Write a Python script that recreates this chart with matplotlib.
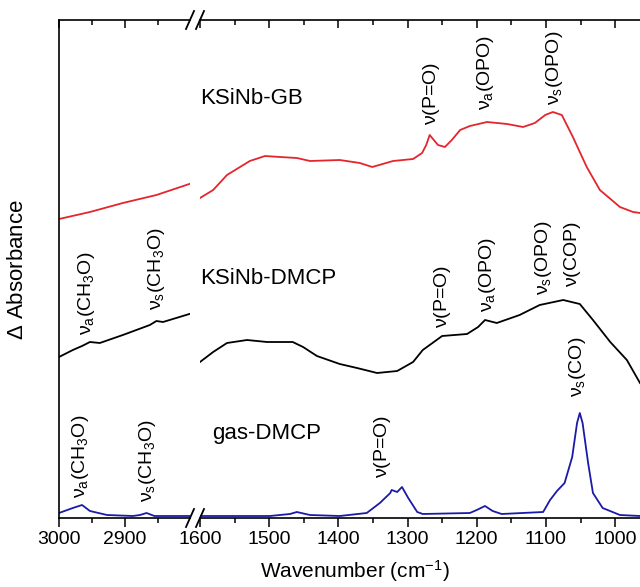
import matplotlib
matplotlib.use("Agg")
import matplotlib.pyplot as plt
from matplotlib.lines import Line2D
from matplotlib.ticker import FixedLocator

plt.rcParams['font.family'] = ['Liberation Sans', 'DejaVu Sans']
plt.rcParams['mathtext.fontset'] = 'custom'
plt.rcParams['mathtext.rm'] = 'Liberation Sans'
plt.rcParams['mathtext.it'] = 'Liberation Sans:italic'
plt.rcParams['mathtext.bf'] = 'Liberation Sans:bold'

# ---- data (wavenumber, delta absorbance, offset stacked) ----
gb_hi_wn = [3000, 2953, 2903, 2852, 2802]
gb_hi_a = [2.99, 3.06, 3.15, 3.23, 3.34]
gb_lo_wn = [1600, 1581, 1561, 1528, 1506, 1484, 1460, 1441, 1398, 1369, 1351, 1321,
            1292, 1279, 1273, 1268, 1262, 1256, 1246, 1236, 1224, 1210, 1185, 1156,
            1133, 1116, 1101, 1090, 1077, 1061, 1041, 1022, 993, 974, 964]
gb_lo_a = [3.20, 3.28, 3.43, 3.57, 3.62, 3.61, 3.60, 3.57, 3.58, 3.55, 3.51, 3.57,
           3.59, 3.65, 3.73, 3.83, 3.78, 3.73, 3.71, 3.78, 3.88, 3.92, 3.96, 3.94,
           3.91, 3.95, 4.03, 4.06, 4.03, 3.81, 3.51, 3.28, 3.11, 3.06, 3.05]

dm_hi_wn = [3000, 2979, 2965, 2953, 2938, 2903, 2862, 2852, 2842, 2802]
dm_hi_a = [1.61, 1.68, 1.72, 1.76, 1.75, 1.83, 1.93, 1.97, 1.96, 2.04]
dm_lo_wn = [1600, 1581, 1561, 1532, 1503, 1466, 1451, 1431, 1398, 1373, 1344, 1315,
            1292, 1278, 1268, 1250, 1214, 1198, 1188, 1171, 1138, 1109, 1075, 1051,
            1032, 1007, 983, 964]
dm_lo_a = [1.56, 1.66, 1.75, 1.78, 1.76, 1.76, 1.71, 1.62, 1.54, 1.50, 1.45, 1.47,
           1.56, 1.68, 1.73, 1.82, 1.84, 1.91, 1.98, 1.95, 2.03, 2.13, 2.18, 2.14,
           1.98, 1.76, 1.58, 1.35]

gas_hi_wn = [3000, 2979, 2965, 2953, 2927, 2888, 2877, 2867, 2855, 2802]
gas_hi_a = [0.05, 0.10, 0.13, 0.07, 0.03, 0.02, 0.03, 0.05, 0.02, 0.02]
gas_lo_wn = [1600, 1499, 1470, 1460, 1441, 1398, 1359, 1340, 1325, 1323, 1315, 1308,
             1299, 1286, 1278, 1210, 1200, 1188, 1177, 1164, 1104, 1094, 1084, 1073,
             1062, 1055, 1051, 1047, 1039, 1032, 1018, 993, 964]
gas_lo_a = [0.02, 0.02, 0.04, 0.06, 0.03, 0.02, 0.05, 0.15, 0.25, 0.28, 0.26, 0.31,
            0.20, 0.06, 0.04, 0.05, 0.08, 0.12, 0.07, 0.04, 0.06, 0.18, 0.27, 0.35,
            0.61, 0.95, 1.05, 0.95, 0.55, 0.25, 0.10, 0.03, 0.02]

RED = '#e3262d'
BLUE = '#1a1aa6'

fig = plt.figure(figsize=(6.4, 5.87), dpi=100)
bot = 1 - 518 / 587
hgt = (518 - 20) / 587
ax1 = fig.add_axes([59 / 640, bot, (190 - 59) / 640, hgt])
ax2 = fig.add_axes([200 / 640, bot, 440 / 640, hgt])

ax1.plot(gb_hi_wn, gb_hi_a, color=RED, lw=1.3)
ax1.plot(dm_hi_wn, dm_hi_a, color='black', lw=1.3)
ax1.plot(gas_hi_wn, gas_hi_a, color=BLUE, lw=1.3)
ax2.plot(gb_lo_wn, gb_lo_a, color=RED, lw=1.3)
ax2.plot(dm_lo_wn, dm_lo_a, color='black', lw=1.3)
ax2.plot(gas_lo_wn, gas_lo_a, color=BLUE, lw=1.3)

ax1.set_xlim(3000, 2801)
ax2.set_xlim(1600, 964)
for ax in (ax1, ax2):
    ax.set_ylim(0, 4.98)
    ax.set_yticks([])
    for s in ax.spines.values():
        s.set_linewidth(1.2)
ax1.spines['right'].set_visible(False)
ax2.spines['left'].set_visible(False)
ax2.spines['right'].set_visible(False)

ax1.set_xticks([3000, 2900])
ax1.xaxis.set_minor_locator(FixedLocator([2950, 2850]))
ax2.set_xticks([1600, 1500, 1400, 1300, 1200, 1100, 1000])
ax2.xaxis.set_minor_locator(FixedLocator([1550, 1450, 1350, 1250, 1150, 1050]))

for ax in (ax1, ax2):
    ax.tick_params(axis='x', which='major', direction='out', length=6.5, width=1.1,
                   labelsize=14, pad=3)
    ax.tick_params(axis='x', which='minor', direction='out', length=3.5, width=1.1)
    top = ax.twiny()
    top.set_xlim(ax.get_xlim())
    top.set_xticks(ax.get_xticks())
    top.xaxis.set_minor_locator(FixedLocator(ax.xaxis.get_minorticklocs()))
    top.tick_params(axis='x', which='major', direction='in', length=6, width=1.1,
                    labeltop=False)
    top.tick_params(axis='x', which='minor', direction='in', length=3.5, width=1.1)
    top.set_yticks([])
    for s in top.spines.values():
        s.set_visible(False)

# break marks
for yc in (20, 518):
    for xc in (190, 200):
        x0, x1 = (xc - 4) / 640, (xc + 4) / 640
        y0, y1 = 1 - (yc + 9) / 587, 1 - (yc - 9) / 587
        fig.add_artist(Line2D([x0, x1], [y0, y1], color='black', lw=1.3))

# sample names
ax2.text(1600, 4.20, 'KSiNb-GB', fontsize=16, va='center', ha='left')
ax2.text(1600, 2.40, 'KSiNb-DMCP', fontsize=16, va='center', ha='left')
ax2.text(1583, 0.84, 'gas-DMCP', fontsize=16, va='center', ha='left')

nu = r'$\mathrm{\nu}$'
nua = r'$\mathrm{\nu_a}$'
nus = r'$\mathrm{\nu_s}$'
ch3o = r'($\mathrm{CH_3}$O)'

band_kw = dict(rotation=90, ha='center', va='bottom', fontsize=14)
# KSiNb-GB bands
ax2.text(1265, 3.93, nu + '(P=O)', **band_kw)
ax2.text(1188, 4.08, nua + '(OPO)', **band_kw)
ax2.text(1087, 4.13, nus + '(OPO)', **band_kw)
# KSiNb-DMCP bands
ax1.text(2958, 1.83, nua + ch3o, **band_kw)
ax1.text(2852, 2.08, nus + ch3o, **band_kw)
ax2.text(1250, 1.90, nu + '(P=O)', **band_kw)
ax2.text(1185, 2.06, nua + '(OPO)', **band_kw)
ax2.text(1104, 2.23, nus + '(OPO)', **band_kw)
ax2.text(1062, 2.31, nu + '(COP)', **band_kw)
ax2.text(1055, 1.21, nus + '(CO)', **band_kw)
# gas-DMCP bands
ax1.text(2968, 0.20, nua + ch3o, **band_kw)
ax1.text(2865, 0.16, nus + ch3o, **band_kw)
ax2.text(1336, 0.40, nu + '(P=O)', **band_kw)

fig.text(18 / 640, 1 - 270 / 587, r'$\Delta$ Absorbance', rotation=90,
         ha='center', va='center', fontsize=16)
fig.text(355 / 640, 1 - 571 / 587, r'Wavenumber (cm$^{\mathregular{-1}}$)',
         ha='center', va='center', fontsize=15)

fig.savefig('out.png', dpi=100)
